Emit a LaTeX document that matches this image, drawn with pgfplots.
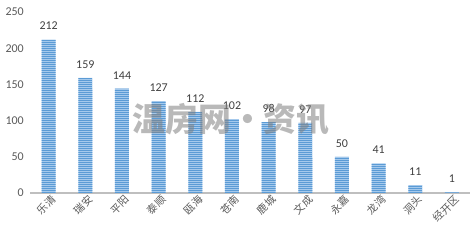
\documentclass[border=0pt]{standalone}
\usepackage{pgfplots}
\pgfplotsset{compat=1.18}
\usetikzlibrary{patterns.meta}
\usepackage{fontspec}
\setmainfont{Carlito}
\newfontfamily\cjk{Noto Sans CJK SC}
\definecolor{barlight}{RGB}{165,201,236}
\definecolor{bardark}{RGB}{91,155,213}
\definecolor{axgray}{RGB}{191,191,191}
\definecolor{txtgray}{RGB}{89,89,89}
\definecolor{lblgray}{RGB}{64,64,64}
\begin{document}
\begin{tikzpicture}
\path[use as bounding box] (0,0) rectangle (475bp,245bp);
\begin{axis}[
  at={(30.3bp,52bp)}, anchor=south west,
  scale only axis, width=440bp, height=181bp,
  xmin=-0.5, xmax=11.5, ymin=0, ymax=250,
  ytick={0,50,100,150,200,250},
  xtick={0,...,11},
  xticklabels={乐清,瑞安,平阳,泰顺,瓯海,苍南,鹿城,文成,永嘉,龙湾,洞头,经开区},
  axis x line*=bottom, axis y line*=left,
  y axis line style={draw=none},
  x axis line style={draw=axgray, line width=1.6bp, -},
  major tick length=0pt,
  tick style={draw=none},
  yticklabel style={font=\fontsize{12}{14}\selectfont, text=txtgray, xshift=-3bp},
  xticklabel style={font=\cjk\fontsize{10.5}{11}\selectfont, text=txtgray, rotate=45, anchor=east, xshift=4bp, yshift=-7bp},
  /pgf/number format/assume math mode=true,
  ybar, bar width=14bp,
  nodes near coords,
  every node near coord/.append style={font=\fontsize{12}{14}\selectfont, text=lblgray, yshift=6bp},
]
\addplot[draw=none, fill=barlight, postaction={pattern={Lines[angle=0,distance=2bp,line width=1bp]}, pattern color=bardark}]
coordinates {(0,212) (1,159) (2,144) (3,127) (4,112) (5,102) (6,98) (7,97) (8,50) (9,41) (10,11) (11,1)};
\end{axis}
\node[font=\cjk\bfseries\fontsize{33}{34}\selectfont, text=gray, opacity=0.55] at (231bp,126bp) {温房网·资讯};
\end{tikzpicture}
\end{document}
